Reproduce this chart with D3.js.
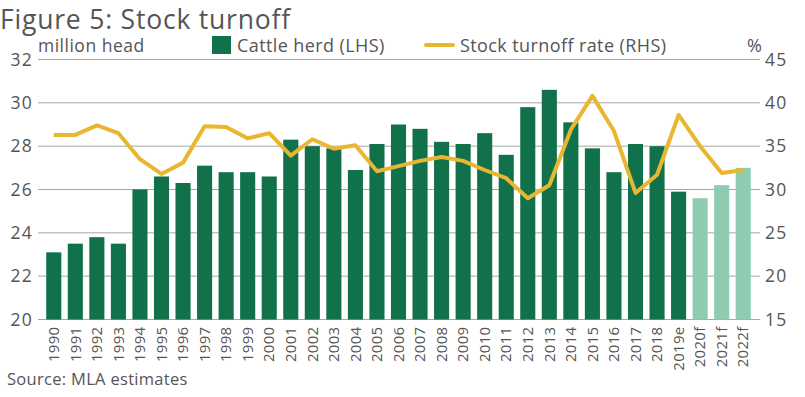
<!DOCTYPE html>
<html>
<head>
<meta charset="utf-8">
<script src="https://cdn.jsdelivr.net/npm/d3@7"></script>
<style>
  body { margin: 0; background: #fff; }
  text { font-family: "Open Sans", sans-serif; fill: #555; }
</style>
</head>
<body>
<div id="chart"></div>
<script>
// Datos
const years = ["1990","1991","1992","1993","1994","1995","1996","1997","1998","1999",
  "2000","2001","2002","2003","2004","2005","2006","2007","2008","2009","2010",
  "2011","2012","2013","2014","2015","2016","2017","2018","2019e","2020f","2021f","2022f"]
const cattleHerd = [23.1,23.5,23.8,23.5,26.0,26.6,26.3,27.1,26.8,26.8,
  26.6,28.3,28.0,27.9,26.9,28.1,29.0,28.8,28.2,28.1,28.6,
  27.6,29.8,30.6,29.1,27.9,26.8,28.1,28.0,25.9,25.6,26.2,27.0]
const turnoffRate = [36.3,36.3,37.4,36.5,33.5,31.8,33.1,37.3,37.2,35.9,
  36.5,33.9,35.8,34.7,35.1,32.1,32.7,33.3,33.75,33.3,32.25,
  31.3,29.0,30.5,36.9,40.8,36.75,29.6,31.7,38.6,35.0,31.9,32.25]
const forecast = ["2020f","2021f","2022f"]
const leftTicks = [20,22,24,26,28,30,32]
const rightTicks = [15,20,25,30,35,40,45]

const width = 805
const height = 397
const margin = { top: 59.5, bottom: 77.5, left: 38, right: 45 }

const svg = d3.select("#chart")
    .append("svg")
    .attr("width", width)
    .attr("height", height)

const data = years.map((y, i) => ({ year: y, herd: cattleHerd[i], rate: turnoffRate[i] }))

// Escalas
const x = d3.scaleBand().domain(years).range([43, 754]).paddingInner(0.3).paddingOuter(0.15)
const yL = d3.scaleLinear().domain([20, 32]).range([height - margin.bottom, margin.top])
const yR = d3.scaleLinear().domain([15, 45]).range([height - margin.bottom, margin.top])

// Líneas de la rejilla
svg.append("g")
    .selectAll("line")
    .data(leftTicks)
    .join("line")
    .attr("x1", margin.left)
    .attr("x2", width - margin.right)
    .attr("y1", d => yL(d))
    .attr("y2", d => yL(d))
    .attr("stroke", "#a6a6a6")
    .attr("stroke-width", 1)

// Eje izquierdo
const yAxisL = d3.axisLeft(yL).tickValues(leftTicks).tickSize(0).tickPadding(5)
svg.append("g")
    .attr("transform", `translate(${margin.left},0)`)
    .call(yAxisL)
    .call(g => g.select(".domain").remove())
    .selectAll("text")
    .attr("font-size", 17.5)
    .attr("letter-spacing", 1.2)
    .attr("fill", "#555")

// Eje derecho
const yAxisR = d3.axisRight(yR).tickValues(rightTicks).tickSize(0).tickPadding(5)
svg.append("g")
    .attr("transform", `translate(${width - margin.right},0)`)
    .call(yAxisR)
    .call(g => g.select(".domain").remove())
    .selectAll("text")
    .attr("font-size", 17.5)
    .attr("letter-spacing", 1.2)
    .attr("fill", "#555")

// Barras
svg.append("g")
    .selectAll("rect")
    .data(data)
    .join("rect")
    .attr("x", d => x(d.year))
    .attr("width", x.bandwidth())
    .attr("y", d => yL(d.herd))
    .attr("height", d => yL(20) - yL(d.herd))
    .attr("fill", d => forecast.includes(d.year) ? "#8fcbb0" : "#10714a")

// Línea de la tasa
svg.append("path")
    .datum(data)
    .attr("fill", "none")
    .attr("stroke", "#e9b632")
    .attr("stroke-width", 4)
    .attr("stroke-linejoin", "round")
    .attr("d", d3.line()
        .x(d => x(d.year) + x.bandwidth() / 2)
        .y(d => yR(d.rate)))

// Eje x con etiquetas rotadas
const xAxis = d3.axisBottom(x).tickSize(0).tickPadding(0)
svg.append("g")
    .attr("transform", `translate(0,${height - margin.bottom})`)
    .call(xAxis)
    .call(g => g.select(".domain").remove())
    .selectAll("text")
    .attr("font-size", 15)
    .attr("letter-spacing", 0.3)
    .attr("fill", "#555")
    .attr("transform", "rotate(-90)")
    .attr("text-anchor", "end")
    .attr("x", -7)
    .attr("y", 0)
    .attr("dy", "0.35em")

// Título y textos
svg.append("text")
    .attr("x", 0)
    .attr("y", 28.5)
    .attr("font-size", 26.5)
    .attr("letter-spacing", 0.8)
    .text("Figure 5: Stock turnoff")

svg.append("text")
    .attr("x", 38)
    .attr("y", 51.5)
    .attr("font-size", 17.5)
    .attr("letter-spacing", 0.5)
    .text("million head")

svg.append("rect")
    .attr("x", 212).attr("y", 36)
    .attr("width", 19).attr("height", 18)
    .attr("fill", "#10714a")
svg.append("text")
    .attr("x", 237)
    .attr("y", 51.5)
    .attr("font-size", 18)
    .attr("letter-spacing", 0.4)
    .text("Cattle herd (LHS)")

svg.append("line")
    .attr("x1", 426).attr("x2", 453)
    .attr("y1", 45).attr("y2", 45)
    .attr("stroke", "#e9b632")
    .attr("stroke-width", 4)
    .attr("stroke-linecap", "round")
svg.append("text")
    .attr("x", 460)
    .attr("y", 51.5)
    .attr("font-size", 18)
    .attr("letter-spacing", 0.4)
    .text("Stock turnoff rate (RHS)")

svg.append("text")
    .attr("x", 747)
    .attr("y", 51.5)
    .attr("font-size", 18)
    .text("%")

svg.append("text")
    .attr("x", 7)
    .attr("y", 385)
    .attr("font-size", 16.5)
    .attr("letter-spacing", 0.3)
    .text("Source: MLA estimates")
</script>
</body>
</html>
